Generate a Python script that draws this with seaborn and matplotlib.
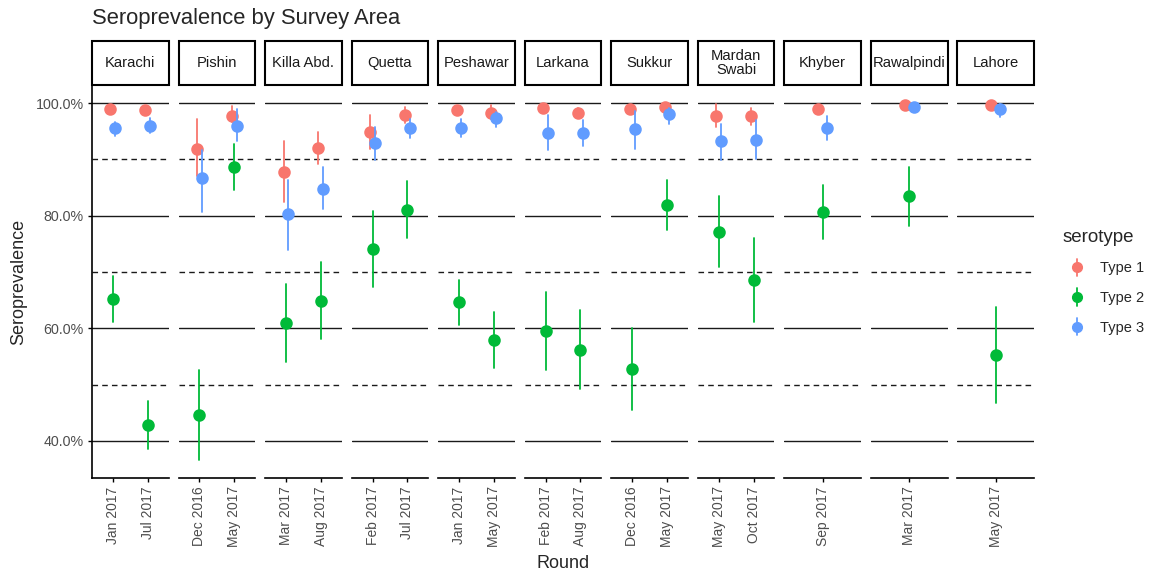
import numpy as np
import pandas as pd
import matplotlib
matplotlib.use("Agg")
import matplotlib.pyplot as plt
from matplotlib.patches import Rectangle
from matplotlib.lines import Line2D
from matplotlib.legend_handler import HandlerBase
from matplotlib.ticker import FuncFormatter, MultipleLocator
import seaborn as sns

# === Data ===
areas = ["Karachi", "Pishin", "Killa Abd.", "Quetta", "Peshawar", "Larkana",
         "Sukkur", "Mardan\nSwabi", "Khyber", "Rawalpindi", "Lahore"]
rounds = [["Jan 2017", "Jul 2017"], ["Dec 2016", "May 2017"], ["Mar 2017", "Aug 2017"],
          ["Feb 2017", "Jul 2017"], ["Jan 2017", "May 2017"], ["Feb 2017", "Aug 2017"],
          ["Dec 2016", "May 2017"], ["May 2017", "Oct 2017"], ["Sep 2017"],
          ["Mar 2017"], ["May 2017"]]
serotypes = ["Type 1", "Type 2", "Type 3"]

# one entry per (area, round), in the order above
type1_est = [98.9, 98.8, 91.8, 97.7, 87.8, 92.0, 94.8, 97.8, 98.7, 98.2, 99.1, 98.3,
             99.0, 99.3, 97.7, 97.7, 98.9, 99.7, 99.7]
type1_lo = [98.3, 98.2, 87.1, 96.6, 82.5, 89.2, 91.8, 96.5, 98.0, 97.2, 98.5, 97.3,
            98.3, 98.7, 95.7, 96.1, 98.2, 99.3, 99.3]
type1_hi = [99.4, 99.3, 97.2, 99.4, 93.2, 94.8, 97.9, 99.3, 99.3, 99.6, 99.6, 99.2,
            99.5, 99.7, 99.8, 99.2, 99.4, 99.9, 99.9]

type2_est = [65.2, 42.9, 44.5, 88.6, 60.9, 64.8, 74.1, 81.0, 64.6, 57.9, 59.5, 56.2,
             52.7, 81.8, 77.1, 68.6, 80.6, 83.4, 55.3]
type2_lo = [61.1, 38.6, 36.6, 84.5, 54.0, 58.0, 67.4, 76.0, 60.6, 52.9, 52.5, 49.2,
            45.5, 77.4, 70.8, 61.1, 75.8, 78.2, 46.8]
type2_hi = [69.3, 47.1, 52.5, 92.8, 67.9, 71.7, 80.9, 86.1, 68.6, 62.9, 66.5, 63.3,
            60.0, 86.4, 83.5, 76.1, 85.4, 88.7, 63.8]

type3_est = [95.5, 96.0, 86.6, 96.0, 80.2, 84.8, 92.9, 95.6, 95.6, 97.4, 94.7, 94.6,
             95.4, 98.0, 93.2, 93.5, 95.6, 99.3, 99.0]
type3_lo = [94.2, 94.7, 80.7, 93.2, 73.9, 81.2, 89.9, 93.8, 93.9, 95.8, 91.6, 92.3,
            91.9, 96.3, 89.9, 90.0, 93.5, 98.8, 97.5]
type3_hi = [96.7, 97.3, 91.7, 98.9, 86.4, 88.6, 95.7, 97.1, 97.2, 98.4, 97.8, 96.9,
            98.5, 99.2, 96.3, 96.9, 97.7, 99.7, 99.8]

# long table: lo / estimate / hi rows, pointplot shows the median and the full range
rows = []
i = 0
for area, rds in zip(areas, rounds):
    for rd in rds:
        for st, est, lo, hi in [("Type 1", type1_est, type1_lo, type1_hi),
                                ("Type 2", type2_est, type2_lo, type2_hi),
                                ("Type 3", type3_est, type3_lo, type3_hi)]:
            for v in (lo[i], est[i], hi[i]):
                rows.append({"area": area, "round": rd, "serotype": st, "value": v / 100})
        i += 1
df = pd.DataFrame(rows)

palette = {"Type 1": "#F8766D", "Type 2": "#00BA38", "Type 3": "#619CFF"}


# legend key: dot with a vertical range line, like geom_pointrange
class PointRangeHandler(HandlerBase):
    def create_artists(self, legend, orig_handle, xdescent, ydescent,
                       width, height, fontsize, trans):
        c = orig_handle.get_color()
        x = width / 2 - xdescent
        yc = height / 2 - ydescent
        line = Line2D([x, x], [yc - 0.85 * height, yc + 0.85 * height],
                      color=c, lw=1.3, transform=trans)
        dot = Line2D([x], [yc], marker="o", markersize=7, color=c, lw=0,
                     transform=trans)
        return [line, dot]


# === Plot ===
sns.set_style("white")
plt.rcParams["font.family"] = ["Liberation Sans", "DejaVu Sans"]

fig, axs = plt.subplots(1, len(areas), figsize=(11.51, 5.75), dpi=100, sharey=True)
fig.subplots_adjust(left=0.0799, right=0.8984, bottom=0.1687, top=0.8522, wspace=0.13)

for k, (ax, area, rds) in enumerate(zip(axs, areas, rounds)):
    sub = df[df["area"] == area]
    sns.pointplot(data=sub, x="round", y="value", hue="serotype", order=rds,
                  hue_order=serotypes, palette=palette, estimator="median",
                  errorbar=("pi", 100), dodge=0.14, linestyle="none", markers="o",
                  markersize=7, err_kws={"linewidth": 1.3}, legend=False, ax=ax)
    ax.set_xlim(-0.6, len(rds) - 1 + 0.6)
    ax.set_ylim(0.334, 1.032)

    # grid lines like the ggplot theme
    for y in [0.4, 0.6, 0.8, 1.0]:
        ax.axhline(y, color="#1A1A1A", lw=1.0, zorder=0)
    for y in [0.5, 0.7, 0.9]:
        ax.axhline(y, color="#1A1A1A", lw=1.0, ls=(0, (4, 3)), zorder=0)

    for s in ["top", "right", "left"]:
        ax.spines[s].set_visible(False)
    ax.spines["bottom"].set_color("black")
    ax.spines["bottom"].set_linewidth(1.2)
    if k == 0:
        ax.spines["left"].set_visible(True)
        ax.spines["left"].set_color("black")
        ax.spines["left"].set_linewidth(1.2)

    ax.tick_params(axis="x", rotation=90, labelsize=10, labelcolor="#4D4D4D",
                   length=3, width=1, color="black", bottom=True, pad=3)
    ax.tick_params(axis="y", labelsize=10.3, labelcolor="#4D4D4D",
                   length=3, width=1, color="black", left=(k == 0), pad=3)
    ax.set_xlabel("")
    ax.set_ylabel("")

    # facet strip
    ax.add_patch(Rectangle((0, 1.0), 1, 0.112, transform=ax.transAxes, clip_on=False,
                           facecolor="white", edgecolor="black", lw=1.5))
    ax.text(0.5, 1.056, area, transform=ax.transAxes, ha="center", va="center",
            fontsize=10.6, color="#1A1A1A", linespacing=0.95)

axs[0].yaxis.set_major_locator(MultipleLocator(0.2))
axs[0].yaxis.set_major_formatter(FuncFormatter(lambda v, p: f"{v*100:.1f}%"))

fig.text(0.0799, 0.968, "Seroprevalence by Survey Area", fontsize=15.8, ha="left", va="center")
fig.text(0.489, 0.020, "Round", fontsize=13, ha="center", va="center")
fig.text(0.016, 0.51, "Seroprevalence", fontsize=13, rotation=90, ha="center", va="center")

# legend
handles = [Line2D([0], [0], color=palette[s]) for s in serotypes]
leg = fig.legend(handles, serotypes, title="serotype", loc="upper left",
                 bbox_to_anchor=(0.9227, 0.602), frameon=False, fontsize=10.5,
                 title_fontsize=13.5, handlelength=2.05, handletextpad=0.55,
                 labelspacing=1.07, borderpad=0, borderaxespad=0,
                 handler_map={Line2D: PointRangeHandler()})
leg._legend_box.align = "left"

fig.savefig("out.png", dpi=100)
